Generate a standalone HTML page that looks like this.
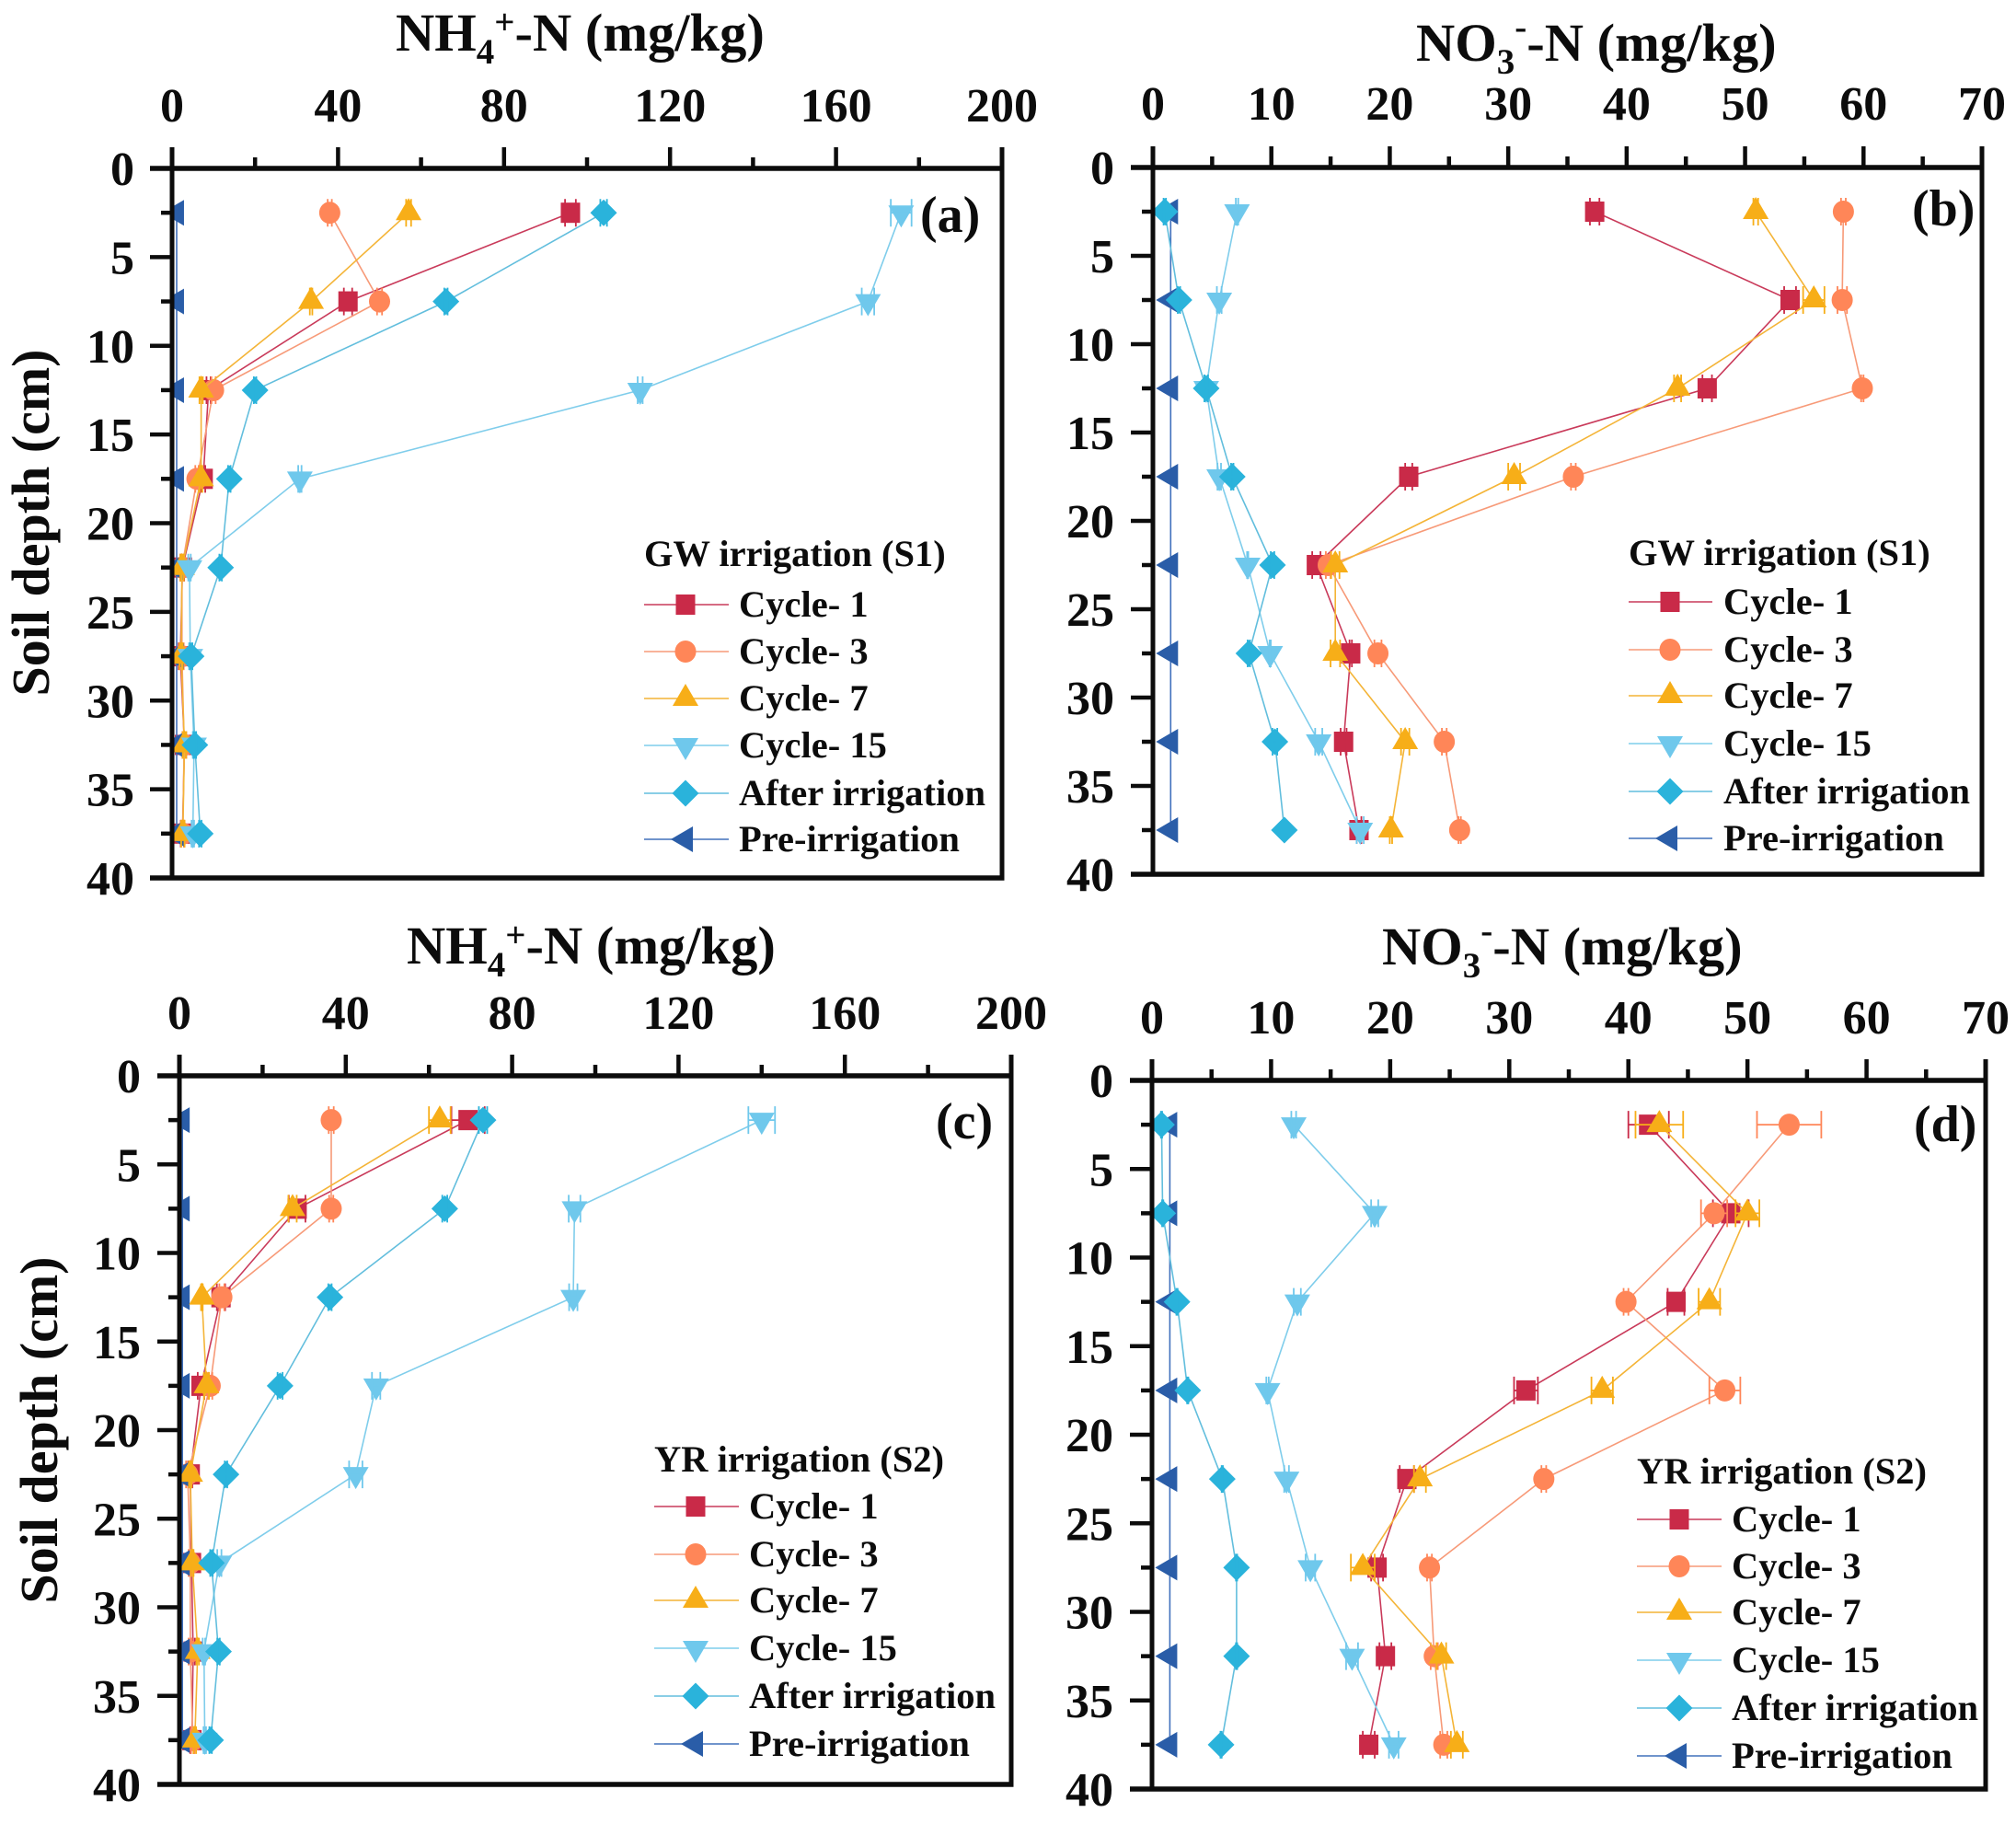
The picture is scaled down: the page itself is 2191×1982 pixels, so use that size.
<!DOCTYPE html>
<html lang="en">
<head>
<meta charset="utf-8">
<title>Soil NH4-N and NO3-N depth profiles</title>
<style>
html,body{margin:0;padding:0;background:#fff;}
#chart{display:block;width:2191px;height:1982px;}
text{font-family:"Liberation Serif",serif;font-weight:bold;fill:#0c0c0c;}
</style>
</head>
<body>
<svg id="chart" xmlns="http://www.w3.org/2000/svg" width="2191" height="1982" viewBox="0 0 2191 1982"></svg>
<script>
// ---------- shared axis data ----------
const depths = [2.5, 7.5, 12.5, 17.5, 22.5, 27.5, 32.5, 37.5];
const depthTicks = [0, 5, 10, 15, 20, 25, 30, 35, 40];
const depthMinorTicks = [2.5, 7.5, 12.5, 17.5, 22.5, 27.5, 32.5, 37.5];
const nh4Ticks = [0, 40, 80, 120, 160, 200];
const nh4MinorTicks = [20, 60, 100, 140, 180];
const no3Ticks = [0, 10, 20, 30, 40, 50, 60, 70];
const no3MinorTicks = [5, 15, 25, 35, 45, 55, 65];
const seriesNames = ["Cycle- 1", "Cycle- 3", "Cycle- 7", "Cycle- 15", "After irrigation", "Pre-irrigation"];

// ---------- panel (a) NH4 GW ----------
const aCycle1 = [96, 42.4, 8.8, 7.5, 2.5, 2, 3, 2.5];
const aCycle3 = [38, 50, 10, 6, 2.4, 2.4, 2.9, 2.6];
const aCycle7 = [57, 33.5, 7, 7, 2.4, 2.2, 3, 2.6];
const aCycle15 = [175.7, 167.7, 112.8, 30.8, 4.2, 4.4, 5.3, 5];
const aAfter = [104, 66, 20, 13.8, 11.7, 4.6, 5.5, 6.8];
const aPre = [1.1, 1.1, 1.1, 1.1, 1.1, 1.1, 1.1, 1.1];
const aCycle1Err = [1.3, 1, 0.5, 0.5, 0.4, 0.4, 0.4, 0.4];
const aCycle3Err = [0.5, 0.6, 0.5, 0.4, 0.4, 0.4, 0.4, 0.4];
const aCycle7Err = [0.6, 0.3, 0.4, 0.3, 0.4, 0.4, 0.4, 0.4];
const aCycle15Err = [2.5, 1.5, 0.6, 0.4, 0.3, 0.3, 0.3, 0.3];
const aAfterErr = [0.8, 0.4, 0.3, 0.3, 0.3, 0.3, 0.3, 0.3];
const aPreErr = [0, 0, 0, 0, 0, 0, 0, 0];

// ---------- panel (b) NO3 GW ----------
const bCycle1 = [37.3, 53.8, 46.8, 21.6, 13.8, 16.7, 16.1, 17.4];
const bCycle3 = [58.3, 58.2, 59.9, 35.5, 14.8, 19, 24.6, 25.9];
const bCycle7 = [50.9, 55.8, 44.3, 30.5, 15.4, 15.4, 21.3, 20.1];
const bCycle15 = [7.1, 5.6, 4.5, 5.6, 8, 9.9, 14, 17.5];
const bAfter = [1, 2.2, 4.5, 6.7, 10.1, 8.1, 10.3, 11.1];
const bPre = [1.5, 1.5, 1.5, 1.5, 1.5, 1.5, 1.5, 1.5];
const bCycle1Err = [0.4, 0.5, 0.4, 0.3, 0.35, 0.1, 0.25, 0.2];
const bCycle3Err = [0.2, 0.4, 0.1, 0.2, 0.2, 0.3, 0.2, 0.1];
const bCycle7Err = [0.2, 0.9, 0.3, 0.5, 0.35, 0.4, 0.35, 0.1];
const bCycle15Err = [0.1, 0.2, 0.15, 0.15, 0.05, 0.05, 0.3, 0.3];
const bAfterErr = [0.1, 0.1, 0.15, 0.1, 0.15, 0.1, 0.2, 0];
const bPreErr = [0, 0, 0, 0, 0, 0, 0, 0];

// ---------- panel (c) NH4 YR ----------
const cCycle1 = [69.4, 28.3, 10, 5.2, 2.6, 2.9, 3.3, 3];
const cCycle3 = [36.5, 36.5, 10.2, 7.4, 2, 2.6, 2.6, 3.2];
const cCycle7 = [62.6, 27.2, 5.4, 6.5, 2.6, 3.1, 4.4, 3.7];
const cCycle15 = [140, 95, 94.7, 47.3, 42.4, 9.6, 5.9, 6.1];
const cAfter = [73, 63.8, 36.2, 24.2, 11.2, 7.7, 9.4, 7.5];
const cPre = [0.7, 0.7, 0.7, 0.7, 0.7, 0.7, 0.7, 0.7];
const cCycle1Err = [4, 2, 1, 0.8, 0.5, 0.4, 0.4, 0.4];
const cCycle3Err = [0.6, 0.5, 0.6, 0.5, 0.4, 0.4, 0.4, 0.4];
const cCycle7Err = [2.6, 1, 0.2, 0.6, 0.3, 0.3, 0.3, 0.3];
const cCycle15Err = [3.2, 1.4, 1, 1, 1.6, 0.5, 0.3, 0.3];
const cAfterErr = [1, 0.6, 0.4, 0.6, 0.3, 0.3, 0.3, 0.3];
const cPreErr = [0, 0, 0, 0, 0, 0, 0, 0];

// ---------- panel (d) NO3 YR ----------
const dCycle1 = [41.7, 48.6, 44, 31.4, 21.4, 18.9, 19.6, 18.2];
const dCycle3 = [53.5, 47.2, 39.8, 48.1, 32.9, 23.3, 23.7, 24.5];
const dCycle7 = [42.6, 50, 46.8, 37.8, 22.5, 17.7, 24.3, 25.6];
const dCycle15 = [11.9, 18.7, 12.2, 9.7, 11.3, 13.3, 16.8, 20.3];
const dAfter = [0.8, 0.9, 2.1, 3, 5.9, 7.1, 7.1, 5.8];
const dPre = [1.5, 1.5, 1.5, 1.5, 1.5, 1.5, 1.5, 1.5];
const dCycle1Err = [1.7, 1.5, 0.7, 1, 0.6, 0.5, 0.5, 0.5];
const dCycle3Err = [2.7, 1.1, 0.2, 1.3, 0.2, 0.2, 0.3, 0.3];
const dCycle7Err = [2, 1, 0.9, 0.9, 0.5, 1, 0.4, 0.5];
const dCycle15Err = [0.2, 0.3, 0.3, 0.1, 0.2, 0.4, 0.5, 0.4];
const dAfterErr = [0.05, 0.05, 0.05, 0.05, 0.05, 0.05, 0.05, 0.05];
const dPreErr = [0, 0, 0, 0, 0, 0, 0, 0];

// ---------- styles and layout ----------
const markerKinds = ["square", "circle", "up", "down", "diamond", "left"];
const markerFill = ["#C92A48", "#FF8658", "#F7AE18", "#6FC8EC", "#2AB3DB", "#2A5DA8"];
const lineStroke = ["#C93A5A", "#F79A78", "#F4B437", "#7FCDEB", "#62BEDD", "#4070BC"];
const drawOrder = [0, 1, 5, 2, 3, 4];

const panels = [
  { key: "a", x0: 187, x1: 1089, y0: 183, y1: 954, xMax: 200, ticks: nh4Ticks, minor: nh4MinorTicks,
    values: [aCycle1, aCycle3, aCycle7, aCycle15, aAfter, aPre],
    errors: [aCycle1Err, aCycle3Err, aCycle7Err, aCycle15Err, aAfterErr, aPreErr],
    tickBase: 132, yLabelX: 146,
    title: { x: 430, y: 55, kind: "nh4" }, letter: { x: 1000, y: 252, text: "(a)" },
    yTitle: { x: 53, y: 568 },
    legend: { title: "GW irrigation (S1)", x: 700, titleY: 615, lineEnd: 792, mx: 745, tx: 803, rows: [657, 708, 759, 810, 862, 912] } },
  { key: "b", x0: 1253, x1: 2154, y0: 182, y1: 950, xMax: 70, ticks: no3Ticks, minor: no3MinorTicks,
    values: [bCycle1, bCycle3, bCycle7, bCycle15, bAfter, bPre],
    errors: [bCycle1Err, bCycle3Err, bCycle7Err, bCycle15Err, bAfterErr, bPreErr],
    tickBase: 130, yLabelX: 1211,
    title: { x: 1539, y: 66, kind: "no3" }, letter: { x: 2078, y: 245, text: "(b)" },
    yTitle: null,
    legend: { title: "GW irrigation (S1)", x: 1770, titleY: 614, lineEnd: 1861, mx: 1815, tx: 1873, rows: [654, 706, 756, 808, 860, 911] } },
  { key: "c", x0: 195, x1: 1099, y0: 1169, y1: 1939, xMax: 200, ticks: nh4Ticks, minor: nh4MinorTicks,
    values: [cCycle1, cCycle3, cCycle7, cCycle15, cAfter, cPre],
    errors: [cCycle1Err, cCycle3Err, cCycle7Err, cCycle15Err, cAfterErr, cPreErr],
    tickBase: 1118, yLabelX: 153,
    title: { x: 442, y: 1047, kind: "nh4" }, letter: { x: 1017, y: 1237, text: "(c)" },
    yTitle: { x: 62, y: 1554 },
    legend: { title: "YR irrigation (S2)", x: 711, titleY: 1599, lineEnd: 803, mx: 756, tx: 814, rows: [1637, 1689, 1739, 1791, 1843, 1895] } },
  { key: "d", x0: 1252, x1: 2158, y0: 1174, y1: 1944, xMax: 70, ticks: no3Ticks, minor: no3MinorTicks,
    values: [dCycle1, dCycle3, dCycle7, dCycle15, dAfter, dPre],
    errors: [dCycle1Err, dCycle3Err, dCycle7Err, dCycle15Err, dAfterErr, dPreErr],
    tickBase: 1123, yLabelX: 1210,
    title: { x: 1502, y: 1048, kind: "no3" }, letter: { x: 2080, y: 1240, text: "(d)" },
    yTitle: null,
    legend: { title: "YR irrigation (S2)", x: 1779, titleY: 1612, lineEnd: 1871, mx: 1825, tx: 1882, rows: [1651, 1702, 1752, 1804, 1856, 1908] } }
];

// ---------- helpers ----------
const svg = document.getElementById("chart");
const NS = "http://www.w3.org/2000/svg";
function make(tag, parent, attrs) {
  const el = document.createElementNS(NS, tag);
  for (const k in attrs) el.setAttribute(k, attrs[k]);
  parent.appendChild(el);
  return el;
}
function scaleX(p, v) { return p.x0 + (v / p.xMax) * (p.x1 - p.x0); }
function scaleY(p, v) { return p.y0 + (v / 40) * (p.y1 - p.y0); }

function drawMarker(parent, kind, cx, cy, fill) {
  let el;
  if (kind === "square") {
    el = make("rect", parent, { x: cx - 10.5, y: cy - 11, width: 21, height: 22, fill: fill });
  } else if (kind === "circle") {
    el = make("ellipse", parent, { cx: cx, cy: cy, rx: 11.5, ry: 12, fill: fill });
  } else if (kind === "up") {
    el = make("polygon", parent, { points: (cx - 14) + "," + (cy + 8) + " " + (cx + 14) + "," + (cy + 8) + " " + cx + "," + (cy - 16), fill: fill });
  } else if (kind === "down") {
    el = make("polygon", parent, { points: (cx - 14) + "," + (cy - 8) + " " + (cx + 14) + "," + (cy - 8) + " " + cx + "," + (cy + 16), fill: fill });
  } else if (kind === "diamond") {
    el = make("polygon", parent, { points: (cx - 14.5) + "," + cy + " " + cx + "," + (cy - 14.5) + " " + (cx + 14.5) + "," + cy + " " + cx + "," + (cy + 14.5), fill: fill });
  } else {
    el = make("polygon", parent, { points: (cx - 16) + "," + cy + " " + (cx + 8) + "," + (cy - 14) + " " + (cx + 8) + "," + (cy + 14), fill: fill });
  }
  return el;
}

function drawTitle(p) {
  const t = make("text", svg, { x: p.title.x, y: p.title.y, "font-size": 58.5 });
  
  
  const parts = p.title.kind === "nh4"
    ? [["NH", 0, 58.5], ["4", 14, 39], ["+", -32, 39], ["-N (mg/kg)", 18, 58.5]]
    : [["NO", 0, 58.5], ["3", 14, 39], ["-", -38, 39], ["-N (mg/kg)", 24, 58.5]];
  parts.forEach(function (part) {
    const s = make("tspan", t, { dy: part[1], "font-size": part[2] });
    s.textContent = part[0];
  });
}

function drawPanel(p) {
  const g = make("g", svg, {});
  
  

  const clip = make("clipPath", g, { id: "clip-" + p.key });
  make("rect", clip, { x: p.x0, y: p.y0, width: p.x1 - p.x0, height: p.y1 - p.y0 });

  // series
  const plot = make("g", g, { "clip-path": "url(#clip-" + p.key + ")" });
  
  
  drawOrder.forEach(function (si) {
    const vals = p.values[si];
    const errs = p.errors[si];
    const sg = make("g", plot, {});
    
    
    const pts = vals.map(function (v, i) { return scaleX(p, v).toFixed(1) + "," + scaleY(p, depths[i]).toFixed(1); }).join(" ");
    const line = make("polyline", sg, { points: pts, fill: "none", stroke: lineStroke[si], "stroke-width": 1.6 });
    
    
    vals.forEach(function (v, i) {
      const cx = scaleX(p, v);
      const cy = scaleY(p, depths[i]);
      const m = drawMarker(sg, markerKinds[si], cx, cy, markerFill[si]);
      
      
      if (errs[i] > 0) {
        const lo = scaleX(p, v - errs[i]);
        const hi = scaleX(p, v + errs[i]);
        const eb = make("path", sg, {
          d: "M" + lo + " " + cy + "H" + hi + "M" + lo + " " + (cy - 15) + "V" + (cy + 15) + "M" + hi + " " + (cy - 15) + "V" + (cy + 15),
          fill: "none", stroke: markerFill[si], "stroke-width": 1.8
        });
        
        
      }
    });
  });

  // axes
  const axes = make("g", g, { stroke: "#0c0c0c", fill: "none" });
  
  
  make("path", axes, { d: "M" + (p.x0 - 24) + " " + p.y0 + "H" + (p.x1 + 2.5), "stroke-width": 5.5 });
  make("path", axes, { d: "M" + (p.x0 - 24) + " " + p.y1 + "H" + (p.x1 + 2.5), "stroke-width": 5.5 });
  make("path", axes, { d: "M" + p.x0 + " " + (p.y0 - 23) + "V" + (p.y1 + 2.5), "stroke-width": 5 });
  make("path", axes, { d: "M" + p.x1 + " " + (p.y0 - 23) + "V" + (p.y1 + 2.5), "stroke-width": 5 });

  p.ticks.forEach(function (v) {
    const x = scaleX(p, v);
    make("path", axes, { d: "M" + x + " " + (p.y0 - 23) + "V" + p.y0, "stroke-width": 4.5 });
    const lab = make("text", g, { x: x, y: p.tickBase, "font-size": 52, "text-anchor": "middle" });
    lab.textContent = String(v);
    
    
  });
  p.minor.forEach(function (v) {
    const x = scaleX(p, v);
    make("path", axes, { d: "M" + x + " " + (p.y0 - 12) + "V" + p.y0, "stroke-width": 4.5 });
  });
  depthTicks.forEach(function (v) {
    const y = scaleY(p, v);
    make("path", axes, { d: "M" + (p.x0 - 24) + " " + y + "H" + p.x0, "stroke-width": 4.5 });
    const lab = make("text", g, { x: p.yLabelX, y: y + 18, "font-size": 52, "text-anchor": "end" });
    lab.textContent = String(v);
    
    
  });
  depthMinorTicks.forEach(function (v) {
    const y = scaleY(p, v);
    make("path", axes, { d: "M" + (p.x0 - 12) + " " + y + "H" + p.x0, "stroke-width": 4.5 });
  });

  drawTitle(p);

  if (p.yTitle) {
    const yt = make("text", g, { x: 0, y: 0, "font-size": 58, "text-anchor": "middle", transform: "translate(" + p.yTitle.x + " " + p.yTitle.y + ") rotate(-90)" });
    yt.textContent = "Soil depth (cm)";
    
    
  }

  const letter = make("text", g, { x: p.letter.x, y: p.letter.y, "font-size": 56 });
  letter.textContent = p.letter.text;
  
  

  // legend
  const L = p.legend;
  const lg = make("g", g, {});
  
  
  const lt = make("text", lg, { x: L.x, y: L.titleY, "font-size": 40.5 });
  lt.textContent = L.title;
  
  
  seriesNames.forEach(function (name, i) {
    const y = L.rows[i];
    const entry = make("g", lg, {});
    
    
    make("path", entry, { d: "M" + L.x + " " + y + "H" + L.lineEnd, stroke: lineStroke[i], "stroke-width": 1.6, fill: "none" });
    drawMarker(entry, markerKinds[i], L.mx, y, markerFill[i]);
    const tx = make("text", entry, { x: L.tx, y: y + 13, "font-size": 40.5 });
    tx.textContent = name;
  });
}

panels.forEach(drawPanel);
</script>
</body>
</html>
